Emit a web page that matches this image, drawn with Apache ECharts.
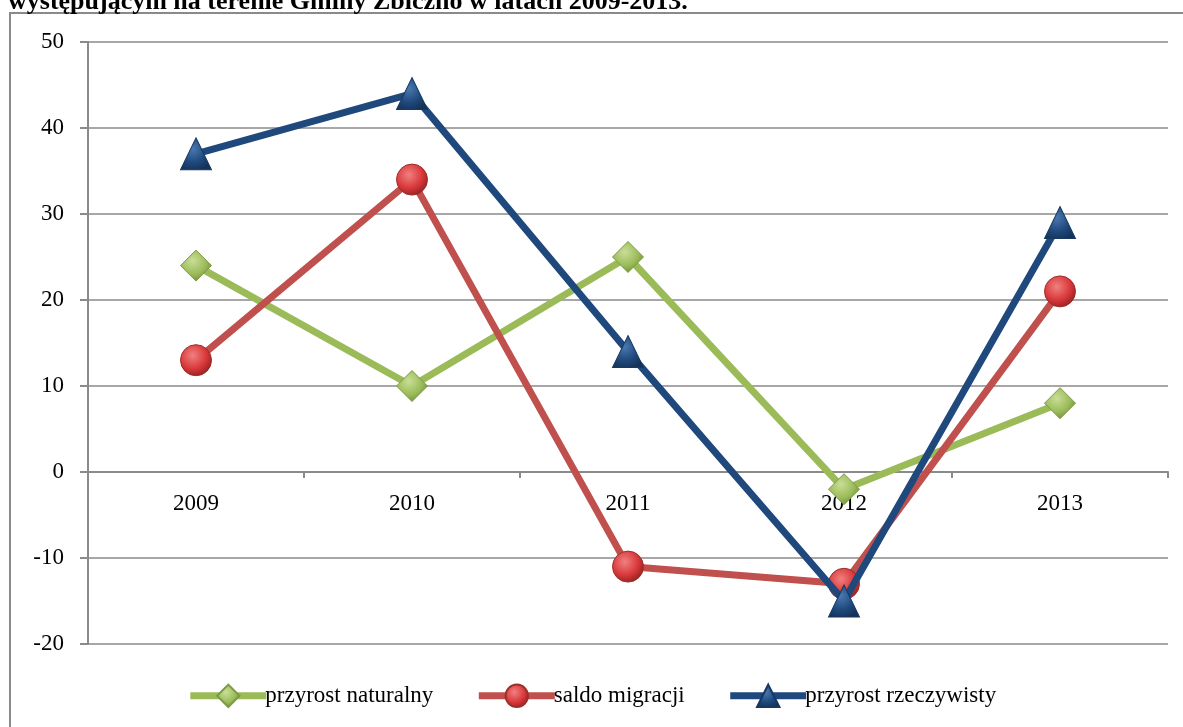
<!DOCTYPE html>
<html>
<head>
<meta charset="utf-8">
<script src="https://cdn.jsdelivr.net/npm/echarts@6/dist/echarts.min.js"></script>
<style>
  html, body { margin: 0; padding: 0; background: #fff; }
  #main { width: 1183px; height: 727px; }
</style>
</head>
<body>
<div id="main"></div>
<script>
  // dane
  var years = ['2009', '2010', '2011', '2012', '2013'];
  var przyrostNaturalny = [24, 10, 25, -2, 8];
  var saldoMigracji = [13, 34, -11, -13, 21];
  var przyrostRzeczywisty = [37, 44, 14, -15, 29];

  var serif = '"Liberation Serif", "Times New Roman", serif';

  function shade(light, base, dark) {
    return new echarts.graphic.RadialGradient(0.4, 0.35, 0.7, [
      { offset: 0, color: light },
      { offset: 0.6, color: base },
      { offset: 1, color: dark }
    ]);
  }

  var chart = echarts.init(document.getElementById('main'));
  chart.setOption({
    animation: false,
    backgroundColor: '#fff',
    graphic: [
      {
        type: 'rect',
        shape: { x: 10, y: 13, width: 1200, height: 800 },
        style: { fill: 'none', stroke: '#8a8a8a', lineWidth: 2 },
        z: -1
      },
      {
        type: 'text',
        left: 8,
        top: -11,
        style: {
          text: 'występującym na terenie Gminy Zbiczno w latach 2009-2013.',
          font: 'bold 26px ' + serif,
          fill: '#000'
        }
      }
    ],
    grid: { left: 88, right: 15, top: 42, bottom: 83 },
    legend: {
      bottom: 14,
      left: 'center',
      itemWidth: 76,
      itemHeight: 28,
      itemGap: 42,
      textStyle: { fontFamily: serif, fontSize: 23, color: '#000', padding: [0, 0, 0, -6] },
      lineStyle: { width: 7 },
      data: ['przyrost naturalny', 'saldo migracji', 'przyrost rzeczywisty']
    },
    xAxis: {
      type: 'category',
      data: years,
      boundaryGap: true,
      position: 'bottom',
      offset: -172,
      axisLine: { onZero: false, lineStyle: { color: '#8a8a8a', width: 2 } },
      axisTick: { show: true, length: 6, lineStyle: { color: '#8a8a8a', width: 2 } },
      axisLabel: { fontFamily: serif, fontSize: 23, color: '#000', margin: 20 },
      z: 1
    },
    yAxis: {
      type: 'value',
      min: -20,
      max: 50,
      interval: 10,
      axisLine: { show: true, lineStyle: { color: '#8a8a8a', width: 2 } },
      axisTick: { show: true, length: 8, lineStyle: { color: '#8a8a8a', width: 2 } },
      axisLabel: { fontFamily: serif, fontSize: 23, color: '#000', margin: 24 },
      splitLine: { lineStyle: { color: '#8a8a8a', width: 1.5 } }
    },
    series: [
      {
        name: 'przyrost naturalny',
        type: 'line',
        data: przyrostNaturalny,
        symbol: 'diamond',
        symbolSize: [31, 31],
        lineStyle: { color: '#9BBB59', width: 7 },
        itemStyle: {
          color: shade('#c9de97', '#9BBB59', '#6f8a3a'),
          borderColor: '#7d9a45',
          borderWidth: 1
        },
        z: 2
      },
      {
        name: 'saldo migracji',
        type: 'line',
        data: saldoMigracji,
        symbol: 'circle',
        symbolSize: 31,
        lineStyle: { color: '#C0504D', width: 7 },
        itemStyle: {
          color: shade('#f08080', '#d9383a', '#8e2020'),
          borderColor: '#9c2f2c',
          borderWidth: 1
        },
        z: 3
      },
      {
        name: 'przyrost rzeczywisty',
        type: 'line',
        data: przyrostRzeczywisty,
        symbol: 'triangle',
        symbolSize: [31, 32],
        lineStyle: { color: '#1F497D', width: 7 },
        itemStyle: {
          color: shade('#4a78b0', '#1F497D', '#143256'),
          borderColor: '#17385f',
          borderWidth: 1
        },
        z: 4
      }
    ]
  });
</script>
</body>
</html>
